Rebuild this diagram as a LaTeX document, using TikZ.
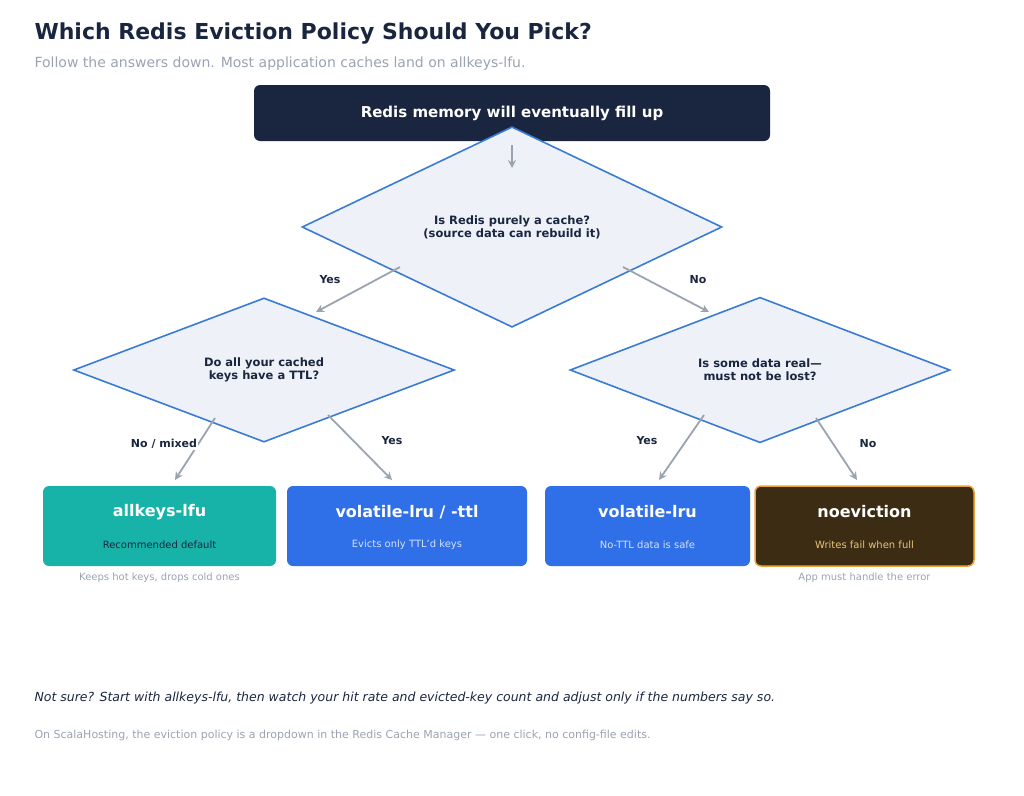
\documentclass[tikz,border=0pt]{standalone}
\usepackage{fontspec}
\setmainfont{DejaVu Sans}
\usetikzlibrary{shapes.geometric,arrows.meta}
\definecolor{navy}{HTML}{1A2640}
\definecolor{dfill}{HTML}{EEF2F8}
\definecolor{dline}{HTML}{3A7BD5}
\definecolor{arr}{HTML}{9AA3B0}
\definecolor{teal}{HTML}{17B3A8}
\definecolor{blu}{HTML}{2F6FE8}
\definecolor{brn}{HTML}{3D2C14}
\definecolor{org}{HTML}{E8A33A}
\definecolor{gold}{HTML}{E8C27A}
\definecolor{gry}{HTML}{9AA3B0}
\definecolor{lt}{HTML}{D6E2FA}
\begin{document}
\begin{tikzpicture}[x=1pt,y=-1pt,
 dec/.style={diamond,draw=dline,fill=dfill,line width=1.6pt,inner sep=0pt,align=center,font=\bfseries\fontsize{11.5}{13}\selectfont,text=navy},
 box/.style={rounded corners=6pt,minimum height=80pt,inner sep=0pt},
 ttl/.style={font=\bfseries\fontsize{16}{18}\selectfont,text=white},
 sub/.style={font=\fontsize{10}{12}\selectfont},
 capt/.style={font=\fontsize{10}{12}\selectfont,text=gry},
 ar/.style={draw=arr,line width=1.8pt,-{Stealth[length=8pt,width=8pt]}},
 lab/.style={font=\bfseries\fontsize{11}{13}\selectfont,text=navy}]
\useasboundingbox (0,0) rectangle (1024,795);
\node[anchor=west,font=\bfseries\fontsize{22}{26}\selectfont,text=navy] (t) at (31,34) {Which Redis Eviction Policy Should You Pick?};
\node[anchor=west,font=\fontsize{14}{16}\selectfont,text=gry] (st) at (31,64) {Follow the answers down. Most application caches land on allkeys-lfu.};
\node[fill=navy,rounded corners=6pt,minimum width=516pt,minimum height=56pt,font=\bfseries\fontsize{15}{18}\selectfont,text=white] (top) at (512,113) {Redis memory will eventually fill up};
\node[dec,minimum width=420pt,minimum height=102pt] (d1) at (512,227) {Is Redis purely a cache?\\(source data can rebuild it)};
\node[dec,minimum width=381pt,minimum height=101pt] (d2) at (264,370) {Do all your cached\\keys have a TTL?};
\node[dec,minimum width=380pt,minimum height=101pt] (d3) at (760,370) {Is some data real—\\must not be lost?};
\coordinate (a0) at (512,145); \coordinate (a1) at (512,168);
\draw[ar] (a0) -- (a1);
\coordinate (p1) at (400,267); \coordinate (q1) at (316,312);
\coordinate (p2) at (623,267); \coordinate (q2) at (709,312);
\coordinate (p3) at (215,418); \coordinate (q3) at (175,480);
\coordinate (p4) at (328,415); \coordinate (q4) at (392,480);
\coordinate (p5) at (704,415); \coordinate (q5) at (659,480);
\coordinate (p6) at (816,418); \coordinate (q6) at (857,480);
\foreach \i in {1,...,6}{\draw[ar] (p\i) -- (q\i);}
\node[lab] (l1) at (330,280) {Yes};
\node[lab] (l2) at (698,280) {No};
\node[lab,fill=white,inner sep=1pt] (l3) at (164,444) {No / mixed};
\node[lab] (l4) at (392,441) {Yes};
\node[lab] (l5) at (647,441) {Yes};
\node[lab] (l6) at (868,444) {No};
\node[box,fill=teal,minimum width=233pt] (b1) at (159.5,526) {};
\node[ttl] (b1t) at (159.5,512) {allkeys-lfu};
\node[sub,text=navy] (b1s) at (159.5,545) {Recommended default};
\node[capt] (c1) at (159.5,578) {Keeps hot keys, drops cold ones};
\node[box,fill=blu,minimum width=240pt] (b2) at (407,526) {};
\node[ttl] (b2t) at (407,512) {volatile-lru / -ttl};
\node[sub,text=lt] (b2s) at (407,545) {Evicts only TTL'd keys};
\node[box,fill=blu,minimum width=205pt] (b3) at (647.5,526) {};
\node[ttl] (b3t) at (647.5,512) {volatile-lru};
\node[sub,text=lt] (b3s) at (647.5,545) {No-TTL data is safe};
\node[box,fill=brn,draw=org,line width=1.5pt,minimum width=219pt] (b4) at (864.5,526) {};
\node[ttl] (b4t) at (864.5,512) {noeviction};
\node[sub,text=gold] (b4s) at (864.5,545) {Writes fail when full};
\node[capt] (c4) at (864.5,578) {App must handle the error};
\node[anchor=west,font=\itshape\fontsize{12.5}{15}\selectfont,text=navy] (n1) at (31,698) {Not sure? Start with allkeys-lfu, then watch your hit rate and evicted-key count and adjust only if the numbers say so.};
\node[anchor=west,font=\fontsize{11}{13}\selectfont,text=gry] (n2) at (31,735) {On ScalaHosting, the eviction policy is a dropdown in the Redis Cache Manager — one click, no config-file edits.};
\end{tikzpicture}
\end{document}
